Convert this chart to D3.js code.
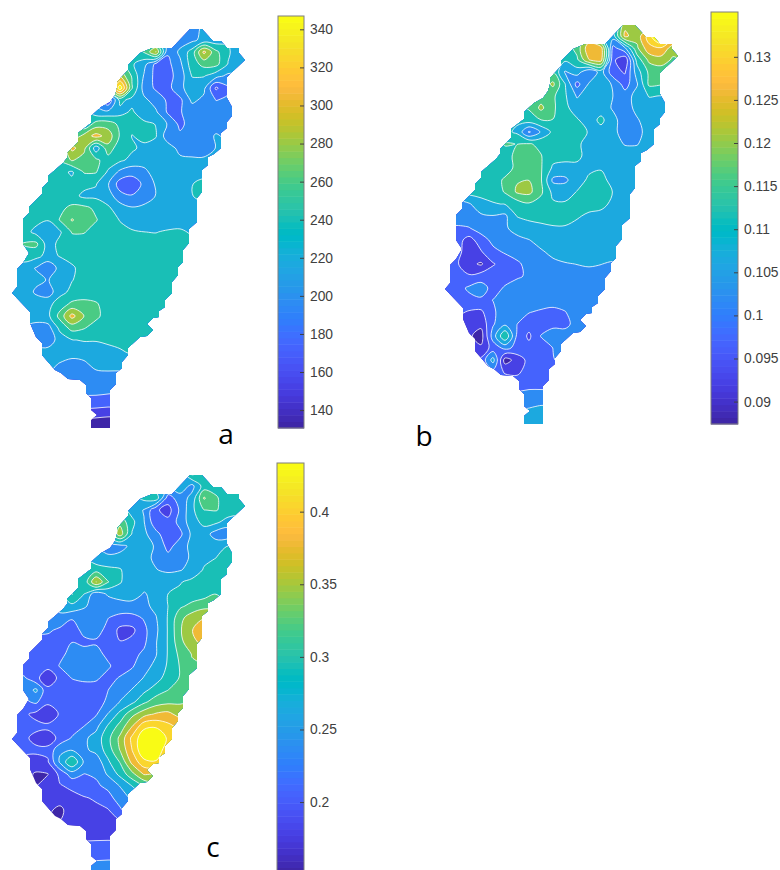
<!DOCTYPE html>
<html><head><meta charset="utf-8">
<script src="https://cdn.jsdelivr.net/npm/d3@7/dist/d3.min.js"></script>
<style>html,body{margin:0;padding:0;background:#fff}svg{display:block}</style></head>
<body><div id="chart"></div>
<script>
// Island outline in map units
const coast = [[190,29],[202,29],[213,41],[221,41],[227,48],[239,48],[239,53],[245,60],[230,74],[227,77],[227,98],[232,107],[232,116],[227,122],[227,128],[221,133],[221,148],[214,154],[208,157],[208,165],[202,170],[202,192],[197,198],[197,222],[189,229],[189,243],[183,250],[183,262],[178,267],[178,275],[172,282],[172,293],[165,300],[165,307],[159,311],[159,317],[153,318],[147,324],[153,330],[147,336],[140,337],[128,348],[128,355],[122,362],[122,368],[116,373],[116,384],[110,390],[110,428],[91,428],[91,420],[97,415],[91,410],[91,398],[86,393],[86,385],[80,380],[68,379],[61,373],[55,370],[42,355],[42,343],[36,337],[30,323],[30,312],[12,293],[17,287],[17,269],[23,263],[29,253],[23,244],[23,219],[29,213],[29,207],[42,194],[42,188],[48,182],[48,176],[63,163],[67,158],[67,153],[78,142],[78,133],[91,123],[91,116],[101,107],[110,102],[115,95],[117,88],[117,82],[128,70],[128,65],[140,53],[152,48],[172,48]];

// Grid rows run north to south every 12 map units from y=28; each row: [first x, values every 12 map units]
const gridA = [
[180,205,208,222,222],
[168,205,206,212,224,226],
[144,262,305,198,222,248,310,266,242,225],
[132,242,225,190,190,212,250,268,268,238,222],
[120,300,258,215,188,188,205,240,240,225,212],
[120,362,262,208,192,188,213,226,222,170,192],
[108,175,245,232,222,208,192,190,222,212,195,198],
[96,225,222,232,242,225,220,192,194,205,205,205,205],
[84,240,270,272,255,245,244,238,215,190,205,205,205,205],
[72,262,290,312,295,258,238,245,240,203,200,200,205,220],
[60,250,310,290,225,275,245,242,234,230,228,210,203,203,218],
[48,245,262,285,270,265,250,243,233,226,225,225,222,222,222],
[48,245,245,236,262,262,236,212,203,212,226,226,226,228,230],
[36,248,250,248,244,245,240,219,185,182,200,220,226,230,238,246],
[36,250,248,248,246,234,234,228,203,197,206,218,226,230,238,246],
[24,248,250,250,255,266,266,256,242,228,219,222,224,226,226,226],
[24,245,246,240,262,284,270,262,248,238,226,224,224,224,224,224],
[24,248,232,220,236,262,262,250,246,244,242,239,238,242,244],
[24,262,266,228,245,250,248,248,248,248,248,248,248,248,248],
[24,252,245,232,240,245,248,248,248,248,248,248,248,248,248],
[12,226,226,216,200,225,236,246,248,248,248,248,248,248,248,248],
[12,226,226,222,216,228,238,246,248,248,248,248,248,248,248],
[12,228,228,214,206,232,244,247,248,248,248,248,248,248,248],
[12,228,228,228,232,250,265,268,263,250,248,248,248,248],
[24,228,228,234,268,312,282,266,250,248,248,248,248],
[24,215,208,208,245,268,262,250,246,246,246,246],
[36,208,205,226,238,240,240,243,246,246,244],
[36,222,225,226,228,230,230,232,236,242],
[48,222,216,208,212,226,230,232],
[60,212,206,208,208,208,206],
[72,206,205,204,203,200],
[72,192,190,190,188,188],
[72,170,168,166,164,164],
[72,142,140,138,135,135],
[72,130,130,130,130,130]];

// values x 0.0001
const gridB = [
[180,1090,1240,1230,1200],
[168,1090,1090,1270,1225,1330,1440],
[132,1130,1180,1290,1280,1000,1060,1200,1290,1300,1230],
[120,1130,1120,1150,1255,1275,980,930,1130,1220,1235,1200],
[108,1150,1160,1060,1090,1020,1085,985,965,1090,1170,1180],
[108,1170,1220,1115,1000,1070,1090,1060,995,1060,1170,1165],
[96,1160,1185,1170,1120,1060,1090,1092,1065,1040,1085,1115,1112],
[96,1165,1220,1170,1125,1090,1090,1090,1060,1040,1080,1095,1095],
[84,1120,1140,1160,1160,1130,1118,1090,1125,1080,1040,1060,1090,1090],
[72,1125,1105,1010,1070,1125,1135,1130,1110,1095,1080,1040,1045,1090,1090],
[60,1130,1165,1160,1165,1150,1130,1130,1122,1095,1090,1085,1062,1062,1090],
[48,1125,1125,1140,1175,1170,1163,1130,1130,1125,1095,1090,1090,1090,1092],
[48,1125,1125,1135,1175,1175,1165,1105,1095,1100,1105,1110,1095,1092,1092],
[36,1130,1130,1135,1170,1205,1208,1165,1055,1055,1095,1120,1125,1100,1092,1092],
[24,1125,1130,1130,1130,1165,1215,1222,1170,1100,1095,1115,1135,1132,1112,1090,1090],
[24,1040,1060,1095,1110,1115,1135,1155,1140,1120,1118,1118,1130,1130,1100,1092],
[24,1045,1050,1058,1063,1055,1115,1125,1125,1125,1125,1118,1105,1095,1090,1090],
[24,1010,1015,1040,1050,1060,1080,1095,1105,1110,1110,1100,1095,1090,1085],
[24,990,950,995,1030,1045,1055,1064,1080,1090,1090,1090,1090,1090,1090],
[24,985,945,965,1005,1022,1045,1050,1060,1075,1085,1085,1085,1085,1085],
[12,1000,975,935,915,965,990,1005,1040,1050,1056,1062,1066,1070,1066,1060],
[12,1000,985,975,992,995,1000,1010,1025,1050,1050,1050,1050,1050,1050],
[12,1000,1000,1025,1040,1000,1022,1040,1050,1050,1050,1050,1050,1050,1050],
[24,995,1005,1010,1018,1040,1045,1045,1045,1045,1045,1045,1045],
[24,980,965,960,1012,1035,1035,1020,1010,1000,1015,1045,1045],
[36,950,935,1012,1055,1018,990,990,1005,1000,1040],
[36,930,900,1040,1160,1008,960,1020,1040,1045,1045],
[36,960,930,990,1030,1005,985,992,1018,1035],
[48,980,1085,900,940,985,995,1015,1030],
[60,1000,965,960,990,995,990],
[72,995,995,998,998,998],
[72,1030,1030,1040,1040,1040],
[72,1060,1060,1065,1072,1072],
[72,1090,1090,1095,1100,1100],
[72,1090,1095,1130,1130,1100]];

// values x 0.001
const gridC = [
[180,280,325,305,300],
[168,270,285,255,305,305],
[144,300,310,222,250,272,352,325,300,298],
[132,280,262,212,195,240,285,320,322,310,300],
[120,340,300,265,215,215,245,280,300,298,280],
[120,365,290,270,245,215,228,270,278,250,245],
[108,250,255,270,270,262,225,250,272,285,280,292],
[96,272,270,272,272,272,258,245,248,270,285,292,308],
[84,300,310,300,295,272,270,265,258,262,272,295,305,305],
[72,295,300,378,322,295,272,272,270,285,290,300,305,305,305],
[60,285,322,292,245,268,272,275,262,270,292,298,305,308,320],
[48,262,275,285,268,250,245,255,255,258,270,292,315,328,340],
[48,242,255,238,245,245,236,225,225,238,262,294,340,365,375],
[36,240,240,230,220,245,245,228,200,200,228,258,294,345,375,410],
[36,225,225,222,235,228,232,230,208,215,230,262,294,340,370,385],
[24,224,224,222,228,245,248,245,228,218,228,240,262,294,328,350],
[24,215,212,212,238,248,250,250,240,220,232,255,270,296,322,345],
[24,240,212,195,212,237,245,240,225,238,250,265,280,305,322],
[24,245,270,212,212,214,214,222,235,250,265,285,305,320,340],
[24,230,240,212,210,212,215,225,240,265,285,315,335,342,345],
[12,212,212,200,190,210,212,218,232,265,300,340,365,380,385,365],
[12,212,212,214,212,212,220,235,255,295,330,375,425,428,412],
[12,212,212,200,198,212,238,258,275,312,355,412,455,465,428],
[12,212,212,212,212,260,262,258,272,305,350,405,460,460,410],
[24,200,198,205,268,320,260,245,287,322,385,425,430,380],
[24,190,175,178,215,250,235,238,268,300,340,380,375],
[36,178,192,205,212,222,232,240,265,292,320,340],
[36,195,195,195,200,205,210,228,245,270,290],
[48,185,170,198,200,202,205,232,250],
[60,180,190,195,195,195,205],
[72,192,195,195,195,195],
[72,212,215,217,218,218],
[72,228,230,231,232,232],
[72,248,250,251,252,252],
[72,260,260,260,260,260]];

const ticksA = [140,160,180,200,220,240,260,280,300,320,340];
const ticksB = [0.09,0.095,0.1,0.105,0.11,0.115,0.12,0.125,0.13];
const tickLabelsB = ["0.09","0.095","0.1","0.105","0.11","0.115","0.12","0.125","0.13"];
const ticksC = [0.2,0.25,0.3,0.35,0.4];
const tickLabelsC = ["0.2","0.25","0.3","0.35","0.4"];

const parula = [[.2422,.1504,.6603],[.2504,.165,.7076],[.2578,.1818,.7511],[.2647,.1978,.7952],[.2706,.2147,.8364],[.2751,.2342,.871],[.2783,.2559,.8991],[.2803,.2782,.9221],[.2813,.3006,.9414],[.281,.3228,.9579],[.2795,.3447,.9717],[.276,.3667,.9829],[.2699,.3892,.9906],[.2602,.4123,.9952],[.244,.4358,.9988],[.2206,.4603,.9973],[.1963,.4847,.9892],[.1834,.5074,.9798],[.1786,.5289,.9682],[.1764,.5499,.952],[.1687,.5703,.9359],[.154,.5902,.9218],[.146,.6091,.9079],[.138,.6276,.8973],[.1248,.6459,.8883],[.1113,.6635,.8763],[.0952,.6798,.8598],[.0689,.6948,.8394],[.0297,.7082,.8163],[.0036,.7203,.7917],[.0067,.7312,.766],[.0433,.7411,.7394],[.0964,.75,.712],[.1408,.7584,.6842],[.1717,.767,.6554],[.1938,.7758,.6251],[.2161,.7843,.5923],[.247,.7918,.5567],[.2906,.7973,.5188],[.3406,.8008,.4789],[.3909,.8029,.4354],[.4456,.8024,.3909],[.5044,.7993,.348],[.5616,.7942,.3045],[.6174,.7876,.2612],[.672,.7793,.2227],[.7242,.7698,.191],[.7738,.7598,.1646],[.8203,.7498,.1535],[.8634,.7406,.1596],[.9035,.733,.1774],[.9393,.7288,.21],[.9728,.7298,.2394],[.9956,.7434,.2371],[.997,.7659,.2199],[.9952,.7861,.1991],[.9892,.8136,.1885],[.9786,.8386,.1766],[.9676,.8639,.1643],[.961,.889,.1537],[.9597,.9135,.1423],[.9628,.9373,.1265],[.9691,.9606,.1064],[.9769,.9839,.0805]]
  .map(c => d3.rgb(c[0]*255, c[1]*255, c[2]*255).formatHex());

const panels = [
 {id:"a", grid:gridA, unit:1,    lo:130.6, hi:347,   dx:0,   dy:0,   bar:[278,304,16,428],  ticks:ticksA, labels:ticksA.map(String), letter:[226,444]},
 {id:"b", grid:gridB, unit:1e-4, lo:.0874, hi:.1352, dx:433, dy:-4,  bar:[711,738,12,424],  ticks:ticksB, labels:tickLabelsB, letter:[424,446]},
 {id:"c", grid:gridC, unit:1e-3, lo:.1505, hi:.4335, dx:0,   dy:446, bar:[277,304,463,874], ticks:ticksC, labels:tickLabelsC, letter:[213,857]}
];

const W = 780, H = 870, step = 12, x0 = 12, y0 = 28, nCols = 21, pad = 1;
const svg = d3.select("#chart").append("svg").attr("width",W).attr("height",H);

function buildGrid(rows, unit){
  const n = nCols + 2*pad, m = rows.length + 2*pad;
  let v = new Array(n*m).fill(null);
  rows.forEach((r,j)=>{ const c0=(r[0]-x0)/step; r.slice(1).forEach((val,i)=>{ v[(j+pad)*n + c0+i+pad] = val*unit; }); });
  // cells off the island only extend the surface under the clip
  let missing = true;
  while(missing){
    missing = false;
    const next = v.slice();
    for(let j=0;j<m;j++) for(let i=0;i<n;i++){
      if(v[j*n+i]!==null) continue;
      let s=0,c=0;
      for(let b=-1;b<=1;b++) for(let a=-1;a<=1;a++){
        const ii=i+a,jj=j+b;
        if(ii<0||jj<0||ii>=n||jj>=m) continue;
        const q=v[jj*n+ii]; if(q!==null){s+=q;c++;}
      }
      if(c) next[j*n+i]=s/c; else missing=true;
    }
    v=next;
  }
  return {v,n,m};
}

panels.forEach(p=>{
  const X = d3.scaleLinear().domain([0,260]).range([p.dx,p.dx+260]);
  const Y = d3.scaleLinear().domain([0,440]).range([p.dy,p.dy+440]);
  const gx = d3.scaleLinear().domain([pad+.5,pad+1.5]).range([x0,x0+step]);
  const gy = d3.scaleLinear().domain([pad+.5,pad+1.5]).range([y0,y0+step]);
  const color = d3.scaleQuantize().domain([p.lo,p.hi]).range(parula);
  const levels = d3.range(11).map(k=>p.lo+k*(p.hi-p.lo)/10);
  const {v,n,m} = buildGrid(p.grid,p.unit);
  const ring = d3.line().x(d=>X(gx(d[0]))).y(d=>Y(gy(d[1]))).curve(d3.curveCatmullRomClosed.alpha(.5));
  const contourPath = c => c.coordinates.flat().map(r=>ring(r.slice(0,-1))).join("");

  svg.append("clipPath").attr("id","clip-"+p.id).append("path")
    .attr("d", d3.line().x(d=>X(d[0])).y(d=>Y(d[1])).curve(d3.curveLinearClosed)(coast));

  const g = svg.append("g").attr("clip-path",`url(#clip-${p.id})`);
  const contours = d3.contours().size([n,m]).thresholds(levels)(v);
  contours.forEach((c,k)=>{
    if(!c.coordinates.length) return;
    g.append("path").attr("d",contourPath(c))
      .attr("fill",k===10?parula[63]:color(levels[k]+1e-9))
      .attr("stroke",k===0?"none":"#fff").attr("stroke-opacity",.8).attr("stroke-width",1);
  });

  // colorbar
  const [bl,br,bt,bb] = p.bar;
  const by = d3.scaleLinear().domain([p.lo,p.hi]).range([bb,bt]);
  const cb = svg.append("g");
  const bandH = (p.hi-p.lo)/64;
  cb.selectAll("rect.c").data(d3.range(64)).join("rect").attr("class","c")
    .attr("x",bl).attr("width",br-bl)
    .attr("y",i=>by(p.lo+(i+1)*bandH)).attr("height",i=>by(p.lo+i*bandH)-by(p.lo+(i+1)*bandH)+.5)
    .attr("fill",i=>parula[i]);
  cb.append("rect").attr("x",bl).attr("y",bt).attr("width",br-bl).attr("height",bb-bt)
    .attr("fill","none").attr("stroke","#7f7f7f").attr("stroke-width",1);
  const axis = d3.axisRight(by).tickValues(p.ticks).tickFormat((d,i)=>p.labels[i])
    .tickSizeInner(-4).tickSizeOuter(0).tickPadding(6);
  const ag = cb.append("g").attr("transform",`translate(${br},0)`).call(axis);
  ag.select(".domain").remove();
  ag.selectAll(".tick line").attr("stroke","#404040");
  ag.selectAll(".tick text").attr("fill","#404040").attr("font-family","'Liberation Sans',Arial,sans-serif").attr("font-size",13.8);

  svg.append("text").attr("x",p.letter[0]).attr("y",p.letter[1]).attr("text-anchor","middle")
    .attr("font-family","'Open Sans',sans-serif").attr("font-size",28).attr("fill","#000").text(p.id);
});
</script></body></html>
